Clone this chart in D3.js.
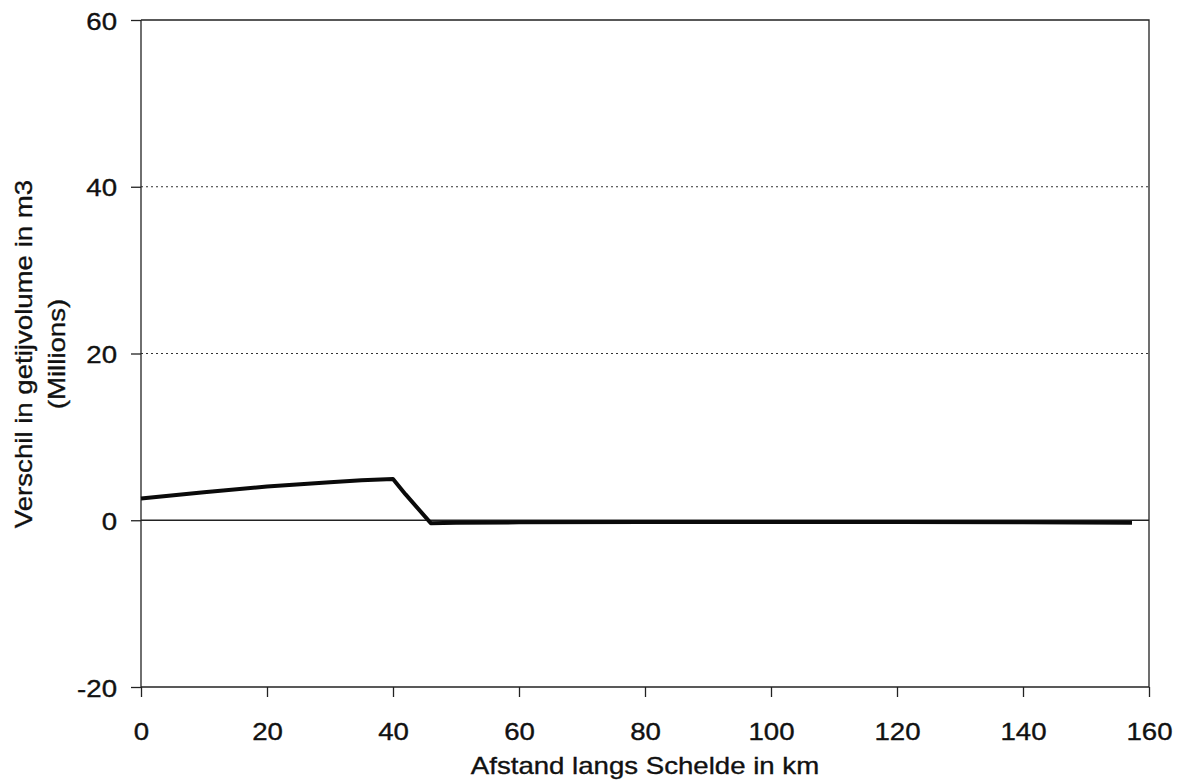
<!DOCTYPE html>
<html>
<head>
<meta charset="utf-8">
<script src="https://cdn.jsdelivr.net/npm/d3@7"></script>
<style>
  html, body { margin: 0; padding: 0; background: #fff; }
  svg { display: block; }
  text { font-family: "Liberation Sans", Arial, sans-serif; fill: #111; stroke: #111; stroke-width: 0.35px; }
</style>
</head>
<body>
<svg id="chart" width="1181" height="782"></svg>
<script>
// Distance along the Scheldt (km) and tidal volume difference (millions m3)
const distanceKm = [0, 10, 20, 30, 35, 40, 42, 46, 50, 60, 80, 100, 120, 140, 157.3];
const volumeDiff = [2.6, 3.35, 4.05, 4.55, 4.8, 4.95, 3.1, -0.35, -0.3, -0.25, -0.2, -0.2, -0.2, -0.25, -0.3];

const xTicks = [0, 20, 40, 60, 80, 100, 120, 140, 160];
const yTicks = [-20, 0, 20, 40, 60];
const gridValues = [20, 40];

const xTitle = "Afstand langs Schelde in km";
const yTitleLines = ["Verschil in getijvolume in m3", "(Millions)"];

const svg = d3.select("#chart");
const plot = { left: 141, right: 1149, top: 20, bottom: 687 };

const x = d3.scaleLinear().domain([0, 160]).range([plot.left, plot.right]);
const y = d3.scaleLinear().domain([-20, 60]).range([plot.bottom, plot.top]);

const FONT = 23.8;
const STRETCH = 1.16; // glyphs are drawn slightly wider than tall
const fmt = d => String(d); // plain hyphen for negatives

function stretch(sel) {
  sel.each(function () {
    const w = this.getComputedTextLength();
    d3.select(this).attr("textLength", w * STRETCH).attr("lengthAdjust", "spacingAndGlyphs");
  });
}

// dotted gridlines
svg.append("g").selectAll("line").data(gridValues).join("line")
  .attr("x1", plot.left).attr("x2", plot.right)
  .attr("y1", d => y(d)).attr("y2", d => y(d))
  .attr("stroke", "#333").attr("stroke-width", 1.2)
  .attr("stroke-dasharray", "2,3");

// zero line
svg.append("line")
  .attr("x1", plot.left).attr("x2", plot.right)
  .attr("y1", y(0)).attr("y2", y(0))
  .attr("stroke", "#222").attr("stroke-width", 1.3);

// frame: top and right
svg.append("path")
  .attr("d", `M${plot.left},${plot.top}H${plot.right}V${plot.bottom}`)
  .attr("fill", "none").attr("stroke", "#222").attr("stroke-width", 1.3);

// x axis
const xAxis = svg.append("g")
  .attr("transform", `translate(0,${plot.bottom})`)
  .call(d3.axisBottom(x).tickValues(xTicks).tickSize(10).tickPadding(0).tickFormat(fmt));
xAxis.select(".domain").attr("stroke", "#222").attr("stroke-width", 1.3)
  .attr("d", `M${plot.left},0H${plot.right}`);
xAxis.selectAll(".tick line").attr("stroke", "#222").attr("stroke-width", 1.3);
xAxis.selectAll(".tick text")
  .attr("y", 53).attr("dy", null)
  .style("font-size", FONT + "px").style("font-family", '"Liberation Sans", Arial, sans-serif')
  .attr("fill", "#111")
  .call(stretch);

// y axis
const yAxis = svg.append("g")
  .attr("transform", `translate(${plot.left},0)`)
  .call(d3.axisLeft(y).tickValues(yTicks).tickSize(10).tickPadding(0).tickFormat(fmt));
yAxis.select(".domain").attr("stroke", "#222").attr("stroke-width", 1.3)
  .attr("d", `M0,${plot.top}V${plot.bottom}`);
yAxis.selectAll(".tick line").attr("stroke", "#222").attr("stroke-width", 1.3);
yAxis.selectAll(".tick text")
  .attr("x", -24).attr("dy", null).attr("y", 9)
  .style("font-size", FONT + "px").style("font-family", '"Liberation Sans", Arial, sans-serif')
  .attr("fill", "#111")
  .call(stretch);

// axis titles
svg.append("text")
  .attr("x", (plot.left + plot.right) / 2).attr("y", 774)
  .attr("text-anchor", "middle")
  .style("font-size", FONT + "px")
  .text(xTitle)
  .call(stretch);

const yTitle = svg.append("g").attr("transform", "translate(0,354) rotate(-90)");
yTitle.selectAll("text").data(yTitleLines).join("text")
  .attr("x", 0).attr("y", (d, i) => i === 0 ? 32 : 65)
  .attr("text-anchor", "middle")
  .style("font-size", FONT + "px")
  .text(d => d)
  .call(stretch);

// data line
const line = d3.line().x(d => x(d[0])).y(d => y(d[1]));
svg.append("path")
  .datum(d3.zip(distanceKm, volumeDiff))
  .attr("d", line)
  .attr("fill", "none")
  .attr("stroke", "#0a0a0a")
  .attr("stroke-width", 4)
  .attr("stroke-linejoin", "round");
</script>
</body>
</html>
